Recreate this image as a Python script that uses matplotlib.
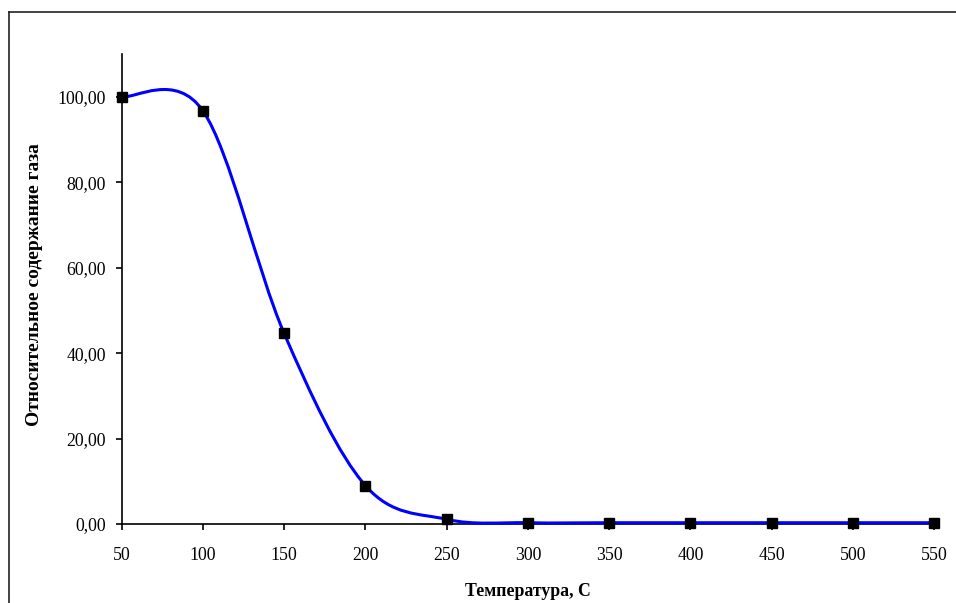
import numpy as np
import matplotlib.pyplot as plt
from matplotlib.path import Path
from matplotlib.patches import PathPatch
from matplotlib.lines import Line2D
from matplotlib.ticker import FuncFormatter
from matplotlib.transforms import Bbox

plt.rcParams['font.family'] = ['Liberation Serif', 'DejaVu Serif']

# данные
temperatura = [50, 100, 150, 200, 250, 300, 350, 400, 450, 500, 550]
soderzhanie = [100.0, 96.7, 44.6, 9.0, 1.1, 0.3, 0.3, 0.3, 0.3, 0.3, 0.3]
y_ticks = [0, 20, 40, 60, 80, 100]


def smooth_path(x, y):
    # сглаженная линия как в Excel (кубические Безье)
    x = np.asarray(x, float)
    y = np.asarray(y, float)
    n = len(x)
    verts = [(x[0], y[0])]
    codes = [Path.MOVETO]
    for i in range(n - 1):
        i0 = max(i - 1, 0)
        i3 = min(i + 2, n - 1)
        c1 = (x[i] + (x[i + 1] - x[i0]) / 6, y[i] + (y[i + 1] - y[i0]) / 6)
        c2 = (x[i + 1] - (x[i3] - x[i]) / 6, y[i + 1] - (y[i3] - y[i]) / 6)
        verts += [c1, c2, (x[i + 1], y[i + 1])]
        codes += [Path.CURVE4] * 3
    return Path(verts, codes)


fig = plt.figure(figsize=(9.56, 6.03), dpi=100)
ax = fig.add_axes([0.1273, 0.131, 0.8497, 0.7794])

ax.add_patch(PathPatch(smooth_path(temperatura, soderzhanie), facecolor='none',
                       edgecolor='#0000ff', lw=2.2, zorder=3, clip_on=False))
ax.plot(temperatura, soderzhanie, ls='none', marker='s', ms=6.5,
        color='black', zorder=4, clip_on=False)

ax.set_xlim(50, 550)
ax.set_ylim(0, 110)
ax.set_xticks(temperatura)
ax.set_yticks(y_ticks)
ax.yaxis.set_major_formatter(FuncFormatter(lambda v, p: f'{v:.2f}'.replace('.', ',')))

for s in ['top', 'right']:
    ax.spines[s].set_visible(False)
for s in ['left', 'bottom']:
    ax.spines[s].set_linewidth(1.2)

ax.tick_params(axis='both', direction='out', length=4.5, width=1.2, labelsize=12.8)
ax.tick_params(axis='y', pad=7)
ax.tick_params(axis='x', pad=12)

ax.set_xlabel('Температура, С', fontsize=12.8, fontweight='bold', labelpad=14)

# подпись оси Y (в оригинале обрезана сверху)
ylab = fig.text(35 / 956, 1 - 426 / 603, 'Относительное содержание газа',
                rotation=90, ha='center', va='bottom', fontsize=14, fontweight='bold')
ylab.set_clip_box(Bbox.from_extents(0, 0, 956, 603 - 100))
ylab.set_clip_on(True)

# рамка области диаграммы
fig.add_artist(Line2D([8.5 / 956, 8.5 / 956], [0, 1 - 12 / 603], color='#222222', lw=1.2))
fig.add_artist(Line2D([8.5 / 956, 1], [1 - 12 / 603, 1 - 12 / 603], color='#222222', lw=1.2))

fig.savefig('out.png', dpi=100)
